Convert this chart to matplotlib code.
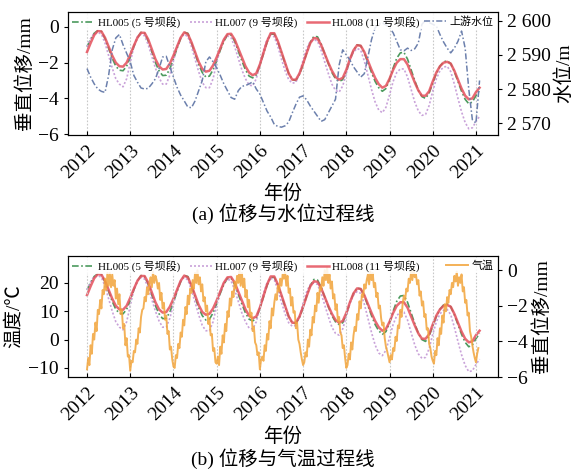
import numpy as np
import matplotlib
matplotlib.use("Agg")
import matplotlib.pyplot as plt
from matplotlib.ticker import FuncFormatter

FAM = ['Liberation Serif', 'Noto Sans CJK SC', 'DejaVu Sans']
plt.rcParams['font.family'] = FAM
plt.rcParams['axes.unicode_minus'] = True

# ---------------- data ----------------
year_ticks = [2012, 2013, 2014, 2015, 2016, 2017, 2018, 2019, 2020, 2021]
month_index = np.arange(110)          # monthly samples from Jan 2012
t_month = 2012 + month_index / 12.0

hl008 = [
    -1.4, -0.9, -0.45, -0.22, -0.25, -0.6, -1.1, -1.6, -2.0, -2.2, -2.22, -2.0,
    -1.55, -1.05, -0.6, -0.32, -0.33, -0.7, -1.25, -1.8, -2.2, -2.38, -2.35, -2.05,
    -1.6, -1.1, -0.6, -0.3, -0.4, -0.85, -1.4, -1.95, -2.35, -2.5, -2.45, -2.15,
    -1.7, -1.2, -0.7, -0.4, -0.38, -0.7, -1.2, -1.7, -2.2, -2.55, -2.7, -2.6,
    -2.1, -1.45, -0.8, -0.35, -0.35, -0.8, -1.4, -2.0, -2.6, -2.95, -2.95, -2.6,
    -2.05, -1.45, -0.9, -0.62, -0.65, -1.0, -1.5, -2.0, -2.45, -2.8, -2.95, -2.85,
    -2.4, -1.8, -1.3, -1.02, -1.05, -1.4, -1.9, -2.4, -2.85, -3.2, -3.4, -3.3,
    -2.9, -2.4, -2.0, -1.8, -1.8, -2.1, -2.6, -3.1, -3.55, -3.85, -3.85, -3.6,
    -3.05, -2.55, -2.2, -2.0, -1.95, -2.05, -2.45, -2.95, -3.45, -3.85, -4.05, -4.0,
    -3.65, -3.4]

hl005 = [
    -1.1, -0.7, -0.35, -0.2, -0.25, -0.65, -1.2, -1.75, -2.2, -2.42, -2.45, -2.2,
    -1.7, -1.1, -0.6, -0.3, -0.35, -0.8, -1.4, -2.0, -2.45, -2.72, -2.7, -2.35,
    -1.8, -1.2, -0.65, -0.3, -0.35, -0.9, -1.5, -2.1, -2.55, -2.8, -2.75, -2.4,
    -1.9, -1.3, -0.8, -0.45, -0.45, -0.8, -1.35, -1.9, -2.4, -2.75, -2.85, -2.7,
    -2.15, -1.5, -0.85, -0.4, -0.4, -0.85, -1.45, -2.05, -2.6, -2.95, -3.0, -2.65,
    -2.1, -1.45, -0.85, -0.52, -0.55, -0.95, -1.5, -2.05, -2.55, -2.9, -3.05, -2.95,
    -2.5, -1.85, -1.3, -1.0, -1.05, -1.45, -2.0, -2.55, -3.05, -3.4, -3.6, -3.45,
    -2.95, -2.3, -1.75, -1.45, -1.42, -1.8, -2.4, -3.0, -3.55, -3.9, -4.0, -3.7,
    -3.15, -2.6, -2.2, -1.95, -1.9, -2.05, -2.5, -3.05, -3.6, -4.05, -4.3, -4.2,
    -3.85, -3.55]

hl007 = [
    -1.1, -0.65, -0.35, -0.3, -0.4, -0.9, -1.6, -2.3, -2.9, -3.2, -3.35, -2.9,
    -2.0, -1.1, -0.55, -0.4, -0.5, -1.0, -1.65, -2.3, -2.85, -3.2, -3.2, -2.7,
    -1.9, -1.1, -0.6, -0.4, -0.55, -1.1, -1.8, -2.5, -3.1, -3.4, -3.4, -2.9,
    -2.0, -1.2, -0.7, -0.5, -0.6, -1.1, -1.75, -2.4, -2.9, -3.25, -3.3, -2.9,
    -2.1, -1.3, -0.7, -0.45, -0.55, -1.1, -1.8, -2.45, -2.95, -3.15, -3.1, -2.6,
    -1.85, -1.2, -0.8, -0.7, -0.8, -1.3, -1.95, -2.6, -3.2, -3.55, -3.65, -3.3,
    -2.6, -1.85, -1.4, -1.2, -1.3, -1.9, -2.7, -3.5, -4.2, -4.65, -4.8, -4.5,
    -3.8, -3.05, -2.55, -2.35, -2.35, -2.8, -3.5, -4.2, -4.7, -4.95, -4.9, -4.4,
    -3.6, -2.9, -2.45, -2.25, -2.2, -2.5, -3.2, -4.0, -4.75, -5.35, -5.7, -5.65,
    -5.3, -5.0]

water_level = [
    2586.0, 2583.5, 2581.5, 2580.0, 2579.3, 2579.0, 2584.0, 2591.5, 2595.0, 2596.0, 2593.0, 2590.5,
    2588.0, 2584.0, 2582.0, 2580.3, 2580.0, 2580.2, 2581.5, 2583.0, 2586.0, 2589.4, 2589.6, 2586.5,
    2583.5, 2580.5, 2578.2, 2576.5, 2574.7, 2574.5, 2576.5, 2579.5, 2582.5, 2588.0, 2589.4, 2588.0,
    2586.2, 2584.0, 2581.5, 2579.5, 2577.5, 2577.0, 2579.5, 2580.8, 2581.0, 2581.5, 2582.1, 2580.0,
    2578.5, 2576.0, 2573.5, 2571.8, 2569.6, 2569.0, 2568.8, 2569.2, 2570.3, 2573.0, 2575.5, 2577.6,
    2578.0, 2576.8, 2575.0, 2573.5, 2572.0, 2570.5, 2571.0, 2573.0, 2575.0, 2577.0, 2587.0, 2591.5,
    2590.0, 2588.5, 2586.5, 2585.0, 2583.5, 2584.5, 2589.4, 2594.5, 2598.0, 2599.0, 2599.4, 2598.8,
    2598.0, 2596.5, 2594.0, 2591.5, 2591.2, 2592.0, 2591.3, 2591.8, 2593.5, 2599.0, 2600.2, 2599.5,
    2599.0, 2598.5, 2596.0, 2593.8, 2592.0, 2590.6, 2592.0, 2594.0, 2597.0, 2592.0, 2580.0, 2571.0,
    2570.0, 2582.5]

# air temperature, ~10-day samples (36 per year)
air_temp = [
    -10.5, -6.5, -9, -2, -5, 2, 0, 6, 3, 10.5, 9, 14, 11, 17.5, 16, 21.5, 17.5, 23.5,
    19, 23.5, 18.5, 23, 19, 21, 14.5, 18, 12.5, 16, 9, 10.5, 4, 5.5, -2, 0.5, -6, -5.5,
    -11, -7.5, -8, -4, -4.5, 0, -1.5, 4, 2.5, 8, 10.5, 11, 15, 13.5, 18.5, 16, 20, 22,
    18.5, 24, 20, 22.5, 21, 18, 20, 14, 16.5, 11, 13, 7, 8.5, 2, 3, -3.5, -2.5, -7,
    -9.5, -10, -5.5, -6.5, -1.5, -3, 2.5, 1, 7, 5, 11.5, 9, 15.5, 12.5, 18, 16.5, 21, 18,
    23.5, 20, 24.5, 19.5, 22, 17, 19.5, 13.5, 15, 10, 12, 5.5, 7.5, 1.5, 2, -4, -3, -8,
    -8.5, -6, -9, -2.5, -5, 1.5, -1, 5.5, 3, 10, 8, 14.5, 12, 17, 15, 20.5, 18, 22.5,
    20, 25, 19, 23.5, 18.5, 21.5, 15, 17.5, 11.5, 14, 8, 9.5, 3, 4.5, -1, -2, -5.5, -4.5,
    -10.5, -7, -6, -7.5, -2, -4, 2, 0, 6.5, 4, 11, 8.5, 13, 16, 14, 19, 17, 21.5,
    19, 23, 21.5, 24, 19, 22.5, 16.5, 18, 12, 15, 9.5, 10, 4, 6, 0, -1.5, -4.5, -7,
    -9, -8, -4.5, -6, 0, -2.5, 3.5, 1.5, 8, 6, 12, 10, 16.5, 13, 18.5, 17.5, 22, 19,
    24.5, 21, 25.5, 20, 23, 18, 20.5, 14.5, 16, 10.5, 12.5, 6.5, 8, 2.5, 1.5, -3, -2, -6.5,
    -10, -9, -5, -7, -1, -3.5, 1.5, 4.5, 3, 9, 7, 13.5, 11, 16, 15, 19.5, 18, 21,
    23, 19.5, 24, 21, 23.5, 18.5, 20, 15, 16.5, 11, 12, 7.5, 5, 6, 0.5, -2.5, -4, -6,
    -8, -5.5, -7, -3, -4, 1, -0.5, 5, 4, 10.5, 8, 13, 15.5, 14, 18, 17, 21.5, 20,
    24, 21, 25, 22, 23, 19.5, 21, 15.5, 17, 12, 13.5, 8, 9, 3.5, 4, -1.5, -3, -6,
    -7.5, -8.5, -4, -5.5, 0.5, -2, 4, 2, 8.5, 6, 12.5, 10, 15, 13, 17.5, 16, 20, 18.5,
    22.5, 20.5, 24, 19, 22, 20, 23, 17, 18.5, 13, 14, 8.5, 9.5, 3, 1, -2, -4.5, -6.5,
    -8, -5, -3]
t_temp = 2012 + np.arange(len(air_temp)) / 36.0

labels_hl = ['HL005 (5 号坝段)', 'HL007 (9 号坝段)', 'HL008 (11 号坝段)']

# ---------------- styles ----------------
C005, C007, C008 = '#4c9a5e', '#c9a2d9', '#e5505c'
CWL, CT = '#6c80ad', '#f2a43a'
FS = 14
W, H = 574, 476

fig = plt.figure(figsize=(W / 100, H / 100), dpi=100)

def frac(x0, y0, x1, y1):
    return [x0 / W, 1 - y1 / H, (x1 - x0) / W, (y1 - y0) / H]

def style_x(ax):
    ax.set_xlim(2011.56, 2021.51)
    ax.set_xticks(year_ticks)
    ax.set_xticklabels([str(y) for y in year_ticks], rotation=45, ha='right',
                       rotation_mode='anchor', fontsize=FS)
    ax.tick_params(axis='x', direction='in', length=3, pad=5)
    ax.grid(axis='x', color='#c8c8c8', lw=0.8, ls=(0, (1.5, 1.5)))
    ax.set_axisbelow(True)

def plot_disp(ax):
    l1, = ax.plot(t_month, hl005, color=C005, lw=1.2, ls=(0, (4, 1.5, 1, 1.5)))
    l2, = ax.plot(t_month, hl007, color=C007, lw=1.2, ls=(0, (1.2, 1.2)))
    l3, = ax.plot(t_month, hl008, color=C008, lw=1.8, alpha=0.85)
    return [l1, l2, l3]

legprops = dict(family=FAM, size=7.9)
legkw = dict(prop=legprops, handlelength=2.0, handletextpad=0.3, borderaxespad=0.2,
             borderpad=0.2, frameon=True, facecolor='white', edgecolor='none',
             framealpha=0.85)

# ---------------- (a) ----------------
ax1 = fig.add_axes(frac(68, 12, 498, 135))
lines_a = plot_disp(ax1)
ax1.set_ylim(-6.05, 0.84)
ax1.set_yticks([-6, -4, -2, 0])
ax1.tick_params(axis='y', labelsize=FS, length=3)
style_x(ax1)
ax1.set_ylabel('垂直位移/mm', fontsize=FS)
ax1.yaxis.set_label_coords(-0.08, 0.5)

ax2 = ax1.twinx()
lw_line, = ax2.plot(t_month, water_level, color=CWL, lw=1.1, ls=(0, (4, 1.5, 1, 1.5)))
ax2.set_ylim(2566.5, 2602.6)
ax2.set_yticks([2570, 2580, 2590, 2600])
ax2.yaxis.set_major_formatter(FuncFormatter(lambda v, p: '%d %03d' % (int(v) // 1000, int(v) % 1000)))
ax2.tick_params(axis='y', labelsize=FS, length=3)
ax2.set_ylabel('水位/m', fontsize=FS)
ax2.yaxis.set_label_coords(1.132, 0.5)

leg1 = ax2.legend(lines_a, labels_hl, loc='upper left', ncol=3, columnspacing=0.9, **legkw)
ax2.add_artist(leg1)
ax2.legend([lw_line], ['上游水位'], loc='upper right', **legkw)

fig.text(283 / W, 1 - 194 / H, '年份', ha='center', va='center', fontsize=FS)
fig.text(283 / W, 1 - 214 / H, '(a) 位移与水位过程线', ha='center', va='center', fontsize=FS)

# ---------------- (b) ----------------
ax3 = fig.add_axes(frac(68, 256, 498, 377))
ax4 = ax3.twinx()
lines_b = plot_disp(ax4)
ax4.set_ylim(-6.0, 0.8)
ax4.set_yticks([-6, -4, -2, 0])
ax4.tick_params(axis='y', labelsize=FS, length=3)
ax4.set_ylabel('垂直位移/mm', fontsize=FS)
ax4.yaxis.set_label_coords(1.08, 0.5)

t_line, = ax3.plot(t_temp, air_temp, color=CT, lw=1.4, alpha=0.85)
ax3.set_zorder(ax4.get_zorder() + 1)
ax3.patch.set_visible(False)
ax3.set_ylim(-13.2, 29.5)
ax3.set_yticks([-10, 0, 10, 20])
ax3.tick_params(axis='y', labelsize=FS, length=3)
style_x(ax3)
ax3.set_ylabel('温度/℃', fontsize=FS)
ax3.yaxis.set_label_coords(-0.105, 0.5)

leg3 = ax3.legend(lines_b, labels_hl, loc='upper left', ncol=3, columnspacing=0.9, **legkw)
ax3.add_artist(leg3)
ax3.legend([t_line], ['气温'], loc='upper right', **legkw)

fig.text(283 / W, 1 - 437 / H, '年份', ha='center', va='center', fontsize=FS)
fig.text(283 / W, 1 - 459 / H, '(b) 位移与气温过程线', ha='center', va='center', fontsize=FS)

fig.savefig('out.png', dpi=100)
